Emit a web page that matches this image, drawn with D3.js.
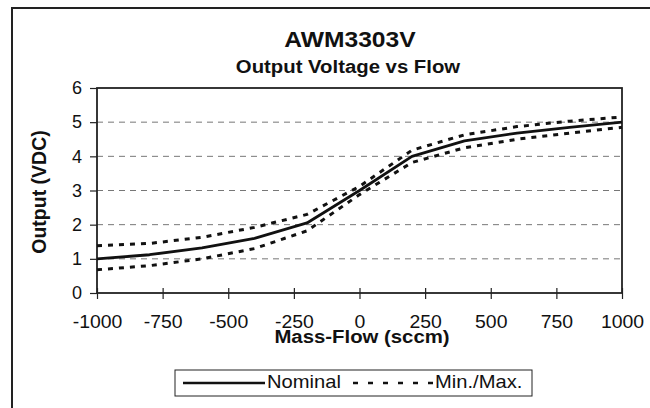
<!DOCTYPE html>
<html>

<head>
    <meta charset="UTF-8">
    <style>
        body { margin: 0; background: #fff; }
        svg { display: block; }
        text { font-family: "Liberation Sans", Arial, Helvetica, sans-serif; fill: #111; }
    </style>
</head>

<body>
    <svg></svg>
    <script src="https://d3js.org/d3.v7.min.js"></script>

    <script>
        const width = 650, height = 408;
        const margin = { top: 88, right: 28, bottom: 115, left: 97 };

        // data
        const flow = [-1000, -800, -600, -400, -200, 0, 200, 400, 600, 800, 1000];
        const nominal = [1.00, 1.12, 1.32, 1.60, 2.05, 3.00, 4.00, 4.45, 4.68, 4.85, 5.00];
        const maxOut = [1.38, 1.45, 1.63, 1.92, 2.30, 3.12, 4.18, 4.63, 4.87, 5.03, 5.15];
        const minOut = [0.68, 0.80, 1.00, 1.30, 1.82, 2.88, 3.82, 4.25, 4.50, 4.68, 4.85];
        const xTicks = [-1000, -750, -500, -250, 0, 250, 500, 750, 1000];
        const yTicks = [0, 1, 2, 3, 4, 5, 6];
        const legendItems = ["Nominal", "Min./Max."];

        const svg = d3.select("svg")
            .attr("width", width)
            .attr("height", height);

        // outer frame (runs off the right / bottom edge)
        svg.append("rect")
            .attr("x", 12).attr("y", 8)
            .attr("width", 700).attr("height", 500)
            .attr("fill", "none")
            .attr("stroke", "#222")
            .attr("stroke-width", 2);

        const x = d3.scaleLinear()
            .domain([-1000, 1000])
            .range([margin.left, width - margin.right]);

        const y = d3.scaleLinear()
            .domain([0, 6])
            .range([height - margin.bottom, margin.top]);

        // helper for slightly widened text (the scan is stretched horizontally)
        function label(x0, y0, str, size, weight, sx, anchor, rot) {
            return svg.append("text")
                .attr("transform", "translate(" + x0 + "," + y0 + ")" + (rot ? " rotate(" + rot + ")" : "") + " scale(" + sx + ",1)")
                .attr("text-anchor", anchor || "middle")
                .attr("font-size", size + "px")
                .attr("font-weight", weight)
                .text(str);
        }

        // grid lines
        svg.append("g")
            .selectAll("line")
            .data(yTicks.filter(d => d > 0 && d < 6))
            .enter()
            .append("line")
            .attr("x1", x(-1000)).attr("x2", x(1000))
            .attr("y1", d => y(d)).attr("y2", d => y(d))
            .attr("stroke", "#777")
            .attr("stroke-width", 1)
            .attr("stroke-dasharray", "6,5");

        // y axis
        const yAxis = svg.append("g")
            .attr("transform", "translate(" + x(-1000) + ",0)")
            .call(d3.axisLeft(y).tickValues(yTicks).tickSize(7).tickPadding(8).tickFormat(d => String(d)));
        yAxis.select(".domain").remove();
        yAxis.selectAll("line").attr("stroke", "#222").attr("stroke-width", 1.2);
        yAxis.selectAll("text")
            .attr("font-size", "18px")
            .attr("font-family", "Liberation Sans, Arial, sans-serif")
            .attr("fill", "#111");

        // x axis (plain hyphen minus, like the original)
        const xAxis = svg.append("g")
            .attr("transform", "translate(0," + y(0) + ")")
            .call(d3.axisBottom(x).tickValues(xTicks).tickSize(6).tickPadding(16).tickFormat(d => String(d)));
        xAxis.select(".domain").remove();
        xAxis.selectAll("line").attr("y1", -5).attr("stroke", "#222").attr("stroke-width", 1.2);
        xAxis.selectAll("text")
            .attr("font-size", "18px")
            .attr("font-family", "Liberation Sans, Arial, sans-serif")
            .attr("fill", "#111")
            .attr("transform", "scale(1.08,1)");

        // plot border
        svg.append("rect")
            .attr("x", x(-1000)).attr("y", y(6))
            .attr("width", x(1000) - x(-1000))
            .attr("height", y(0) - y(6))
            .attr("fill", "none")
            .attr("stroke", "#222")
            .attr("stroke-width", 1.8);

        // curves
        const line = d3.line()
            .x((d, i) => x(flow[i]))
            .y(d => y(d));

        [maxOut, minOut].forEach(s => {
            svg.append("path")
                .attr("d", line(s))
                .attr("fill", "none")
                .attr("stroke", "#111")
                .attr("stroke-width", 3)
                .attr("stroke-dasharray", "5,6");
        });

        svg.append("path")
            .attr("d", line(nominal))
            .attr("fill", "none")
            .attr("stroke", "#111")
            .attr("stroke-width", 2.8)
            .attr("stroke-linejoin", "round");

        // titles
        label(350, 47, "AWM3303V", 22, "bold", 1.12);
        label(348, 73, "Output Voltage vs Flow", 18, "bold", 1.13);
        label(362, 343, "Mass-Flow (sccm)", 18.5, "bold", 1.1);
        label(46, 192, "Output (VDC)", 19.5, "bold", 1, "middle", -90);

        // legend
        svg.append("rect")
            .attr("x", 175).attr("y", 370)
            .attr("width", 357).attr("height", 26)
            .attr("fill", "#fff")
            .attr("stroke", "#222")
            .attr("stroke-width", 1);

        svg.append("line")
            .attr("x1", 183).attr("x2", 265)
            .attr("y1", 383).attr("y2", 383)
            .attr("stroke", "#111").attr("stroke-width", 2.5);
        label(267, 388, legendItems[0], 18, "normal", 1.12, "start");

        svg.append("line")
            .attr("x1", 353).attr("x2", 437)
            .attr("y1", 383).attr("y2", 383)
            .attr("stroke", "#111").attr("stroke-width", 2.5)
            .attr("stroke-dasharray", "5,10");
        label(435, 388, legendItems[1], 18, "normal", 1.12, "start");
    </script>

</body>

</html>
